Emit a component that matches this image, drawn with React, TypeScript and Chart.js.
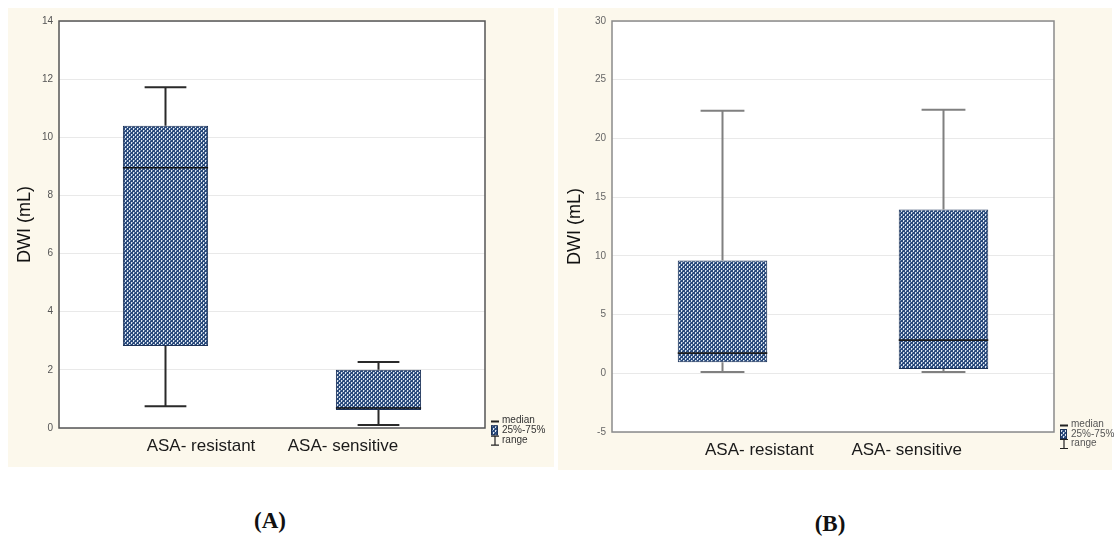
import React, { useEffect, useRef } from 'react';
import { Chart, registerables } from 'chart.js';

Chart.register(...registerables);
Chart.defaults.font.family = "Arial, 'Liberation Sans', sans-serif";

// ---------- data ----------
const categories = ['ASA- resistant', 'ASA- sensitive'];
const legendLabels = ['median', '25%-75%', 'range'];
const axisTitle = 'DWI (mL)';

// Panel A
const aYTicks = [0, 2, 4, 6, 8, 10, 12, 14];
const aMin = [0.75, 0.1];
const aQ1 = [2.82, 0.62];
const aMedian = [8.95, 0.69];
const aQ3 = [10.4, 2.0];
const aMax = [11.72, 2.27];

// Panel B
const bYTicks = [-5, 0, 5, 10, 15, 20, 25, 30];
const bMin = [0.1, 0.1];
const bQ1 = [0.93, 0.37];
const bMedian = [1.72, 2.82];
const bQ3 = [9.6, 13.95];
const bMax = [22.35, 22.45];

type PanelCfg = {
  left: number; top: number; width: number; height: number;
  padTop: number; padRight: number; yWidth: number; xHeight: number;
  yTicks: number[]; mins: number[]; q1: number[]; med: number[]; q3: number[]; maxs: number[];
  barPct: number; frameColor: string; whiskerColor: string; whiskerWidth: number;
  medianColor: string; tickColor: string; legendColor: string; legendStep: number;
};

function makePattern(canvas: HTMLCanvasElement): CanvasPattern | string {
  const t = document.createElement('canvas');
  t.width = 4; t.height = 4;
  const c = t.getContext('2d')!;
  c.fillStyle = '#2a4a7c';
  c.fillRect(0, 0, 4, 4);
  c.fillStyle = '#dde6f0';
  c.fillRect(1, 0, 1, 2);
  c.fillRect(3, 2, 1, 2);
  c.fillStyle = '#6f8bb0';
  c.fillRect(2, 0, 1, 1);
  c.fillRect(0, 2, 1, 1);
  const p = canvas.getContext('2d')!.createPattern(t, 'repeat');
  return p || '#5f7aa0';
}

function BoxPanel({ cfg }: { cfg: PanelCfg }) {
  const ref = useRef<HTMLCanvasElement>(null);
  useEffect(() => {
    const canvas = ref.current!;
    const pattern = makePattern(canvas);
    const plugin = {
      id: 'boxExtras',
      beforeDraw(chart: any) {
        const { ctx, chartArea: a } = chart;
        ctx.save();
        ctx.fillStyle = '#ffffff';
        ctx.fillRect(a.left, a.top, a.right - a.left, a.bottom - a.top);
        ctx.restore();
      },
      afterDatasetsDraw(chart: any) {
        const { ctx } = chart;
        const ys = chart.scales.y;
        const meta = chart.getDatasetMeta(0);
        ctx.save();
        meta.data.forEach((bar: any, i: number) => {
          const { x, width } = bar.getProps(['x', 'width'], true);
          const cap = width * 0.49;
          const pMax = ys.getPixelForValue(cfg.maxs[i]);
          const pQ3 = ys.getPixelForValue(cfg.q3[i]);
          const pQ1 = ys.getPixelForValue(cfg.q1[i]);
          const pMin = ys.getPixelForValue(cfg.mins[i]);
          const pMed = ys.getPixelForValue(cfg.med[i]);
          ctx.strokeStyle = cfg.whiskerColor;
          ctx.lineWidth = cfg.whiskerWidth;
          ctx.beginPath();
          ctx.moveTo(x, pMax); ctx.lineTo(x, pQ3);
          ctx.moveTo(x, pQ1); ctx.lineTo(x, pMin);
          ctx.moveTo(x - cap / 2, pMax); ctx.lineTo(x + cap / 2, pMax);
          ctx.moveTo(x - cap / 2, pMin); ctx.lineTo(x + cap / 2, pMin);
          ctx.stroke();
          ctx.strokeStyle = cfg.medianColor;
          ctx.lineWidth = 1.6;
          ctx.beginPath();
          ctx.moveTo(x - width / 2, pMed); ctx.lineTo(x + width / 2, pMed);
          ctx.stroke();
        });
        ctx.restore();
      },
      afterDraw(chart: any) {
        const { ctx, chartArea: a } = chart;
        ctx.save();
        ctx.strokeStyle = cfg.frameColor;
        ctx.lineWidth = 1.5;
        ctx.strokeRect(a.left, a.top, a.right - a.left, a.bottom - a.top);
        // legend
        const lx = a.right + 6;
        const ly = a.bottom - 7.5;
        ctx.font = "10px Arial, 'Liberation Sans', sans-serif";
        ctx.textBaseline = 'middle';
        ctx.textAlign = 'left';
        legendLabels.forEach((lab, k) => {
          const y = ly + k * cfg.legendStep;
          ctx.strokeStyle = '#222';
          if (k === 0) {
            ctx.lineWidth = 2;
            ctx.beginPath(); ctx.moveTo(lx, y + 1); ctx.lineTo(lx + 8, y + 1); ctx.stroke();
          } else if (k === 1) {
            ctx.fillStyle = pattern as any;
            ctx.fillRect(lx, y - 5, 7, 10);
            ctx.lineWidth = 1;
            ctx.strokeStyle = '#1b3157';
            ctx.strokeRect(lx + 0.5, y - 4.5, 6, 9);
          } else {
            ctx.lineWidth = 1.2;
            ctx.beginPath();
            ctx.moveTo(lx + 4, y - 4); ctx.lineTo(lx + 4, y + 5);
            ctx.moveTo(lx, y - 4); ctx.lineTo(lx + 8, y - 4);
            ctx.moveTo(lx, y + 5); ctx.lineTo(lx + 8, y + 5);
            ctx.stroke();
          }
          ctx.fillStyle = cfg.legendColor;
          ctx.fillText(lab, lx + 11, y);
        });
        ctx.restore();
      },
    };
    const chart = new Chart(canvas, {
      type: 'bar',
      data: {
        labels: categories,
        datasets: [{
          data: categories.map((_, i) => [cfg.q1[i], cfg.q3[i]]) as any,
          backgroundColor: pattern as any,
          borderColor: '#1b3157',
          borderWidth: 1,
          borderSkipped: false,
          barPercentage: cfg.barPct,
          categoryPercentage: 1,
          xAxisID: 'x',
          yAxisID: 'y',
        }],
      },
      options: {
        responsive: false,
        animation: false,
        devicePixelRatio: 1,
        layout: { padding: { left: 0, top: cfg.padTop, right: cfg.padRight, bottom: 0 } },
        plugins: { legend: { display: false }, tooltip: { enabled: false } },
        scales: {
          x: { type: 'category', display: false, offset: true },
          xl: {
            type: 'category',
            position: 'bottom',
            labels: ['', ...categories, ''],
            offset: false,
            grid: { display: false, drawTicks: false },
            border: { display: false },
            ticks: { color: '#1a1a1a', font: { size: 17 }, padding: 8, autoSkip: false, maxRotation: 0 },
            afterFit: (s: any) => { s.height = cfg.xHeight; },
          } as any,
          y: {
            type: 'linear',
            min: cfg.yTicks[0],
            max: cfg.yTicks[cfg.yTicks.length - 1],
            afterBuildTicks: (s: any) => { s.ticks = cfg.yTicks.map((v) => ({ value: v })); },
            grid: { color: '#e9e9e9', drawTicks: false, lineWidth: 1 },
            border: { display: false },
            ticks: { color: cfg.tickColor, font: { size: 10 }, padding: 6 },
            title: { display: true, text: axisTitle, color: '#111', font: { size: 18 }, padding: { top: 6, bottom: 0 } },
            afterFit: (s: any) => { s.width = cfg.yWidth; },
          },
        },
      },
      plugins: [plugin],
    });
    return () => chart.destroy();
  }, []);
  return (
    <canvas
      ref={ref}
      width={cfg.width}
      height={cfg.height}
      style={{ position: 'absolute', left: cfg.left, top: cfg.top, width: cfg.width, height: cfg.height }}
    />
  );
}

const panelA: PanelCfg = {
  left: 8, top: 8, width: 546, height: 459,
  padTop: 13, padRight: 69, yWidth: 51, xHeight: 39,
  yTicks: aYTicks, mins: aMin, q1: aQ1, med: aMedian, q3: aQ3, maxs: aMax,
  barPct: 0.4, frameColor: '#555555', whiskerColor: '#2a2a2a', whiskerWidth: 2,
  medianColor: '#111111', tickColor: '#555555', legendColor: '#333333', legendStep: 9.8,
};

const panelB: PanelCfg = {
  left: 558, top: 8, width: 559, height: 462,
  padTop: 13, padRight: 63, yWidth: 54, xHeight: 38,
  yTicks: bYTicks, mins: bMin, q1: bQ1, med: bMedian, q3: bQ3, maxs: bMax,
  barPct: 0.405, frameColor: '#8a8a8a', whiskerColor: '#808080', whiskerWidth: 2,
  medianColor: '#1a1a1a', tickColor: '#666666', legendColor: '#555555', legendStep: 9.5,
};

export default function App() {
  const cream = '#fcf8ec';
  const lab: React.CSSProperties = {
    position: 'absolute', fontFamily: "'Liberation Serif', 'Times New Roman', serif",
    fontWeight: 'bold', fontSize: 23, lineHeight: '26px', color: '#111', transform: 'translateX(-50%)',
    whiteSpace: 'nowrap',
  };
  return (
    <div style={{ position: 'absolute', left: 0, top: 0, width: 1117, height: 539, background: '#fff', overflow: 'hidden' }}>
      <div style={{ position: 'absolute', left: 8, top: 8, width: 546, height: 459, background: cream }} />
      <div style={{ position: 'absolute', left: 558, top: 8, width: 554, height: 462, background: cream }} />
      <BoxPanel cfg={panelA} />
      <BoxPanel cfg={panelB} />
      <div style={{ ...lab, left: 270, top: 508 }}>(A)</div>
      <div style={{ ...lab, left: 830, top: 511 }}>(B)</div>
    </div>
  );
}
